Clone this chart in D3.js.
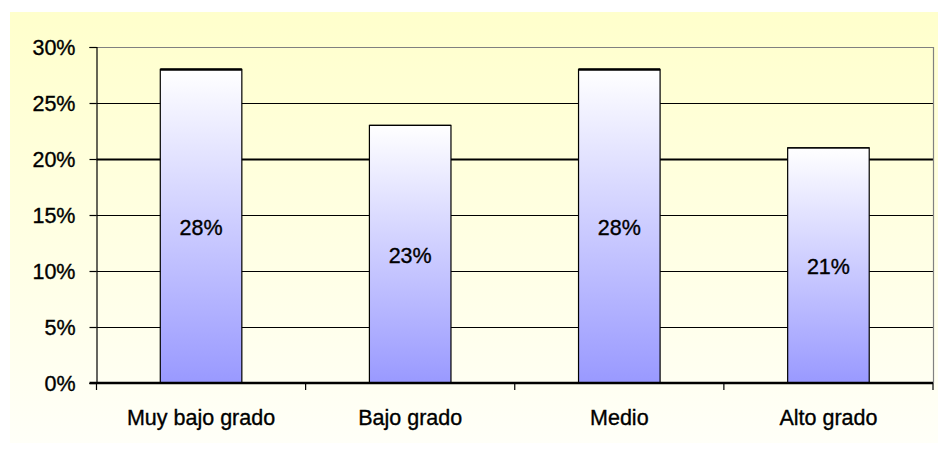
<!DOCTYPE html>
<html><head><meta charset="utf-8">
<script src="https://cdn.jsdelivr.net/npm/d3@7"></script>
<style>html,body{margin:0;padding:0;background:#fff;}svg{display:block;}</style>
</head><body>
<script>
const categories = ["Muy bajo grado", "Bajo grado", "Medio", "Alto grado"];
const values = [28, 23, 28, 21];
const valueLabels = ["28%", "23%", "28%", "21%"];
const yTicks = [0, 5, 10, 15, 20, 25, 30];
const yTickLabels = ["0%", "5%", "10%", "15%", "20%", "25%", "30%"];

const W = 938, H = 449;
const m = {left: 96.5, right: 5, top: 47, bottom: 66};
const svg = d3.select("body").append("svg").attr("width", W).attr("height", H);
const defs = svg.append("defs");
const bg = defs.append("linearGradient").attr("id", "bg").attr("x1", 0).attr("y1", 0).attr("x2", 0).attr("y2", 1);
bg.append("stop").attr("offset", "0%").attr("stop-color", "#ffffcc");
bg.append("stop").attr("offset", "100%").attr("stop-color", "#fffff8");
const bar = defs.append("linearGradient").attr("id", "bar").attr("x1", 0).attr("y1", 0).attr("x2", 0).attr("y2", 1);
bar.append("stop").attr("offset", "0%").attr("stop-color", "#ffffff");
bar.append("stop").attr("offset", "100%").attr("stop-color", "#9999ff");

svg.append("rect").attr("x", 10).attr("y", 12).attr("width", 928).attr("height", 431).attr("fill", "url(#bg)");

const x = d3.scaleBand().domain(categories).range([m.left, W - m.right]).paddingInner(0.61).paddingOuter(0.305);
const xb = d3.scaleBand().domain(categories).range([m.left, W - m.right]);
const y = d3.scaleLinear().domain([0, 30]).range([H - m.bottom, m.top]);

const font = "'Liberation Sans', Arial, sans-serif";
const fs = 21.5;

// gridlines
svg.append("g").selectAll("line").data(yTicks.filter(t => t > 0)).join("line")
  .attr("x1", m.left).attr("x2", W - m.right)
  .attr("y1", d => Math.round(y(d)) + 0.5).attr("y2", d => Math.round(y(d)) + 0.5)
  .attr("stroke", d => d === 30 ? "#808080" : "#000")
  .attr("stroke-width", d => d === 20 ? 2 : 1.2);

// right border
svg.append("line").attr("x1", W - m.right + 0.5).attr("x2", W - m.right + 0.5)
  .attr("y1", y(30)).attr("y2", y(0)).attr("stroke", "#808080").attr("stroke-width", 1.2);

// bars
svg.append("g").selectAll("rect").data(values).join("rect")
  .attr("x", (d, i) => x(categories[i]))
  .attr("width", x.bandwidth())
  .attr("y", d => y(d))
  .attr("height", d => y(0) - y(d))
  .attr("fill", "url(#bar)")
  .attr("stroke", "#000").attr("stroke-width", 1.2);

// thicker top edges
svg.append("g").selectAll("line").data(values).join("line")
  .attr("x1", (d, i) => x(categories[i])).attr("x2", (d, i) => x(categories[i]) + x.bandwidth())
  .attr("y1", d => y(d)).attr("y2", d => y(d))
  .attr("stroke", "#000").attr("stroke-width", (d) => d === 28 ? 2.5 : 1.2);

// value labels
svg.append("g").selectAll("text").data(values).join("text")
  .attr("x", (d, i) => x(categories[i]) + x.bandwidth() / 2)
  .attr("y", d => (y(d) + y(0)) / 2 + 9)
  .attr("text-anchor", "middle").attr("font-family", font).attr("font-size", fs)
  .attr("fill", "#000").attr("stroke", "#000").attr("stroke-width", 0.35)
  .text((d, i) => valueLabels[i]);

// y axis
const yAxis = d3.axisLeft(y).tickValues(yTicks).tickFormat((d, i) => yTickLabels[i]).tickSize(7).tickPadding(14);
const gy = svg.append("g").attr("transform", `translate(${m.left},0)`).call(yAxis);
gy.select(".domain").attr("stroke", "#000").attr("stroke-width", 1.2);
gy.selectAll(".tick line").attr("stroke", "#000").attr("stroke-width", 1.2);
gy.selectAll(".tick text").attr("font-family", font).attr("font-size", fs).attr("fill", "#000")
  .attr("stroke", "#000").attr("stroke-width", 0.35).attr("dy", "0.36em");

// x axis baseline
svg.append("line").attr("x1", m.left - 7).attr("x2", W - m.right)
  .attr("y1", y(0)).attr("y2", y(0)).attr("stroke", "#000").attr("stroke-width", 2.5);

// x ticks at band boundaries
const bounds = categories.map(c => xb(c)).concat([W - m.right]);
svg.append("g").selectAll("line").data(bounds).join("line")
  .attr("x1", d => d).attr("x2", d => d)
  .attr("y1", y(0)).attr("y2", y(0) + 7)
  .attr("stroke", "#000").attr("stroke-width", 1.2);

// category labels
svg.append("g").selectAll("text").data(categories).join("text")
  .attr("x", d => xb(d) + xb.bandwidth() / 2)
  .attr("y", y(0) + 42)
  .attr("text-anchor", "middle").attr("font-family", font).attr("font-size", fs)
  .attr("fill", "#000").attr("stroke", "#000").attr("stroke-width", 0.35)
  .text(d => d);
</script>
</body></html>
